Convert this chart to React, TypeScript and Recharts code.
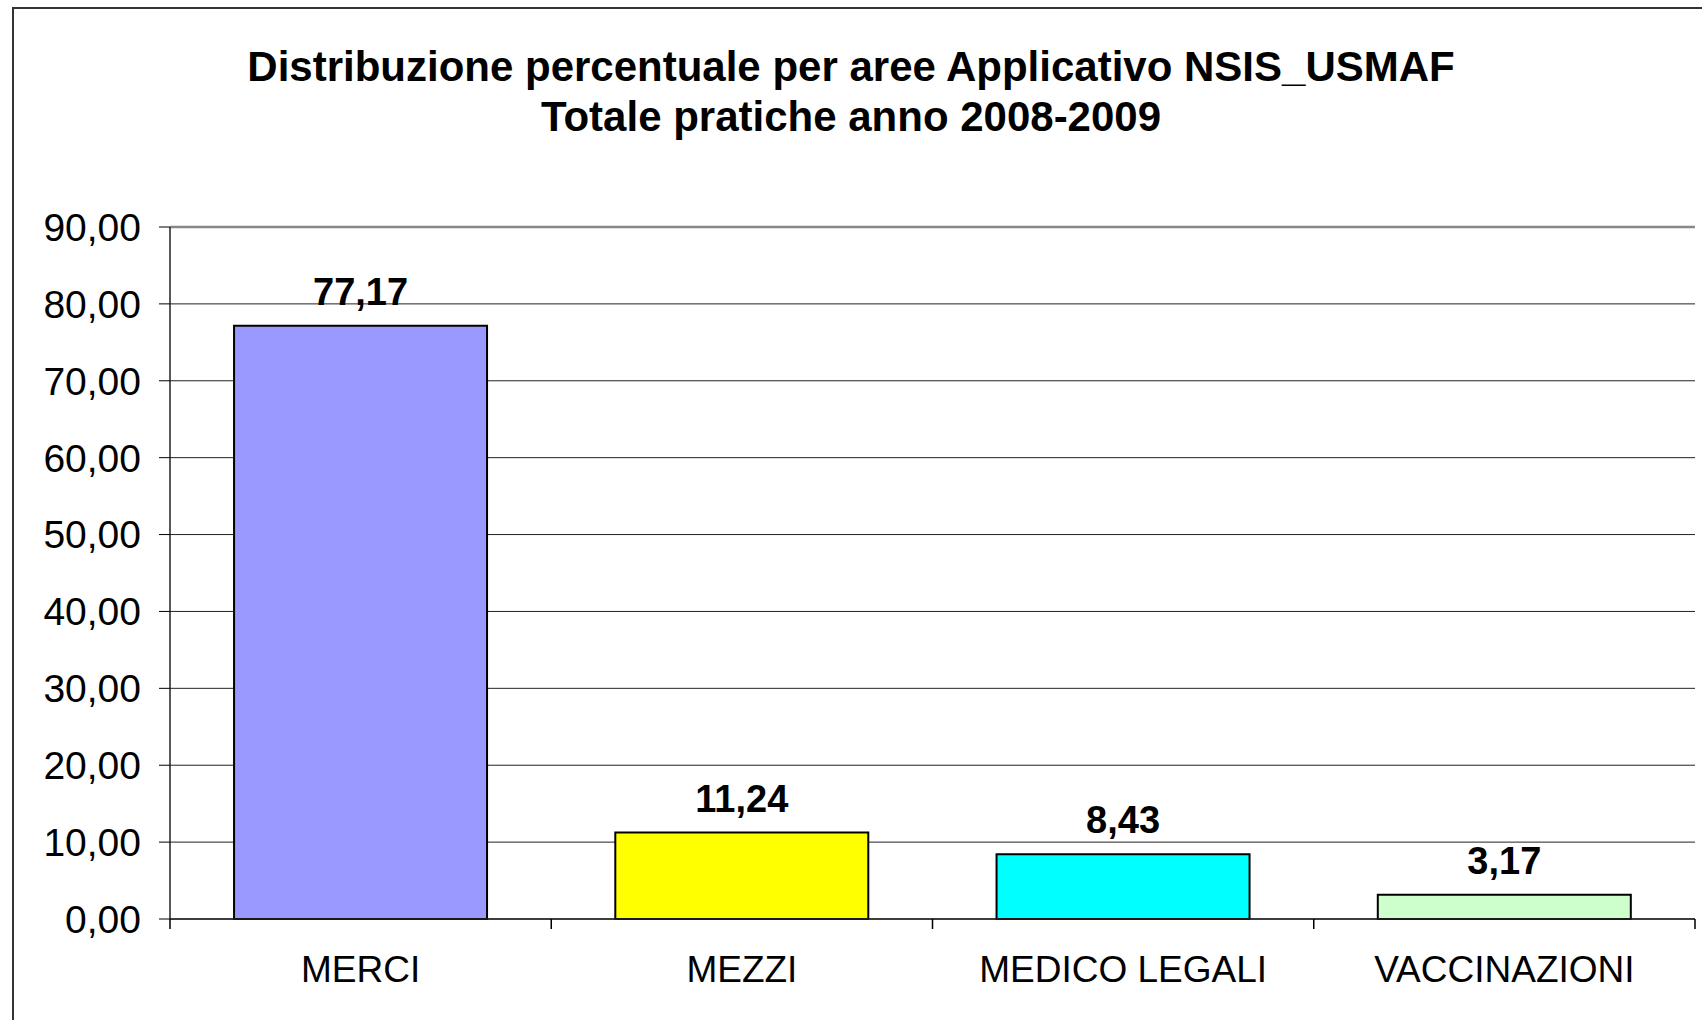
import React from "react";
import {
  BarChart,
  Bar,
  XAxis,
  YAxis,
  CartesianGrid,
  Cell,
  LabelList,
  ReferenceLine,
} from "recharts";

// values
const categories = ["MERCI", "MEZZI", "MEDICO LEGALI", "VACCINAZIONI"];
const percentages = [77.17, 11.24, 8.43, 3.17];
const barColors = ["#9999FF", "#FFFF00", "#00FFFF", "#CCFFCC"];
const yTicks = [0, 10, 20, 30, 40, 50, 60, 70, 80, 90];

const titleLines = [
  "Distribuzione percentuale per aree Applicativo NSIS_USMAF",
  "Totale pratiche anno 2008-2009",
];

const FONT = '"Liberation Sans", Arial, sans-serif';
const CAT_MARGIN = 37;
const BOUNDARY_TICK = 10;

const chartData = categories.map((name, i) => ({ name, value: percentages[i] }));

const fmt = (v: number) => v.toFixed(2).replace(".", ",");

// Excel style category axis: label in the middle, tick marks on the category borders
function CategoryTick(props: any) {
  const { x, y, payload, index, visibleTicksCount, width } = props;
  const half =
    payload && typeof payload.offset === "number" && payload.offset > 0
      ? payload.offset
      : width / visibleTicksCount / 2;
  const axisY = y - CAT_MARGIN;
  const isLast = index === visibleTicksCount - 1;
  return (
    <g>
      <line x1={x - half} x2={x - half} y1={axisY} y2={axisY + BOUNDARY_TICK} stroke="#000" strokeWidth={1.5} />
      {isLast && (
        <line x1={x + half} x2={x + half} y1={axisY} y2={axisY + BOUNDARY_TICK} stroke="#000" strokeWidth={1.5} />
      )}
      <text
        x={x}
        y={y}
        dy="0.71em"
        textAnchor="middle"
        fontSize={37}
        fontFamily={FONT}
        fill="#000"
      >
        {payload.value}
      </text>
    </g>
  );
}

export default function App() {
  return (
    <div
      style={{
        position: "absolute",
        left: 0,
        top: 0,
        width: 1702,
        height: 1020,
        background: "#fff",
        overflow: "hidden",
        fontFamily: FONT,
      }}
    >
      {/* outer chart frame, only top and left edges are visible */}
      <div
        style={{
          position: "absolute",
          left: 12,
          top: 7,
          width: 1720,
          height: 1040,
          borderLeft: "2px solid #333",
          borderTop: "2px solid #333",
        }}
      />
      <div
        style={{
          position: "absolute",
          left: 0,
          top: 42,
          width: 1702,
          textAlign: "center",
          fontWeight: "bold",
          fontSize: 42,
          lineHeight: "50px",
          color: "#000",
        }}
      >
        {titleLines.map((t) => (
          <div key={t}>{t}</div>
        ))}
      </div>
      <div style={{ position: "absolute", left: 0, top: 0 }}>
        <BarChart
          width={1702}
          height={1020}
          data={chartData}
          margin={{ top: 227, right: 7, bottom: 0, left: 0 }}
          barCategoryGap="16.8%"
        >
          <CartesianGrid vertical={false} stroke="#222" strokeWidth={1} />
          <XAxis
            dataKey="name"
            height={101}
            axisLine={{ stroke: "#222", strokeWidth: 1.5 }}
            tickLine={false}
            tickSize={0}
            tickMargin={CAT_MARGIN}
            interval={0}
            tick={<CategoryTick />}
          />
          <YAxis
            domain={[0, 90]}
            ticks={yTicks}
            width={170}
            tickSize={11}
            tickMargin={18}
            tickFormatter={fmt}
            axisLine={{ stroke: "#222", strokeWidth: 1.5 }}
            tickLine={{ stroke: "#000", strokeWidth: 1 }}
            tick={{ fontSize: 39, fill: "#000", fontFamily: FONT }}
          />
          <YAxis
            yAxisId="frame"
            orientation="right"
            domain={[0, 90]}
            width={0}
            tick={false}
            tickLine={false}
            axisLine={{ stroke: "#888", strokeWidth: 2.5 }}
          />
          <ReferenceLine y={90} stroke="#888" strokeWidth={2.5} />
          <Bar dataKey="value" stroke="#000" strokeWidth={2} isAnimationActive={false}>
            {chartData.map((d, i) => (
              <Cell key={d.name} fill={barColors[i]} />
            ))}
            <LabelList
              dataKey="value"
              position="top"
              offset={21}
              formatter={(v: any) => fmt(Number(v))}
              style={{ fontSize: 38, fontWeight: "bold", fill: "#000", fontFamily: FONT }}
            />
          </Bar>
        </BarChart>
      </div>
    </div>
  );
}
